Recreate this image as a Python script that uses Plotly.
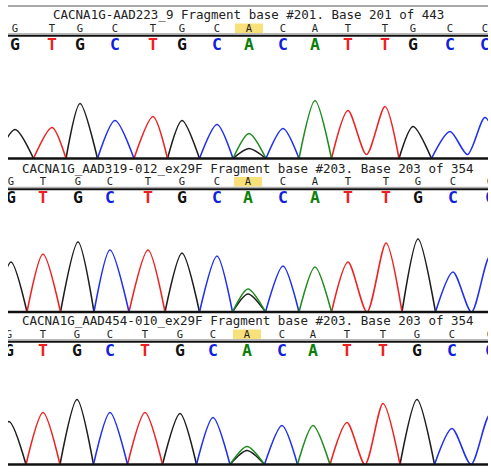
import plotly.graph_objects as go

W, H = 491, 476

# ---------------- data ----------------
titles = [
    "CACNA1G-AAD223_9 Fragment base #201. Base 201 of 443",
    "CACNA1G_AAD319-012_ex29F Fragment base #203. Base 203 of 354",
    "CACNA1G_AAD454-010_ex29F Fragment base #203. Base 203 of 354",
]
reference_seq = list("GTGCTGCACATTGCC")
base_calls = list("GTGCTGCACATTGCC")
highlight_index = 7

peak_scans_1 = [15, 52, 80, 115, 153, 182, 217, 249, 283, 315, 348, 385, 413, 450, 485]
peak_heights_1 = [580, 620, 1100, 760, 840, 760, 680, 500, 600, 1160, 960, 1040, 640, 540, 820]
peak_scans_2 = [11, 43, 78, 110, 148, 182, 217, 248, 283, 315, 348, 386, 418, 453, 490]
peak_heights_2 = [1000, 1160, 1400, 1240, 1240, 1180, 1120, 460, 920, 900, 1000, 1380, 1460, 800, 1120]
peak_scans_3 = [9, 43, 77, 110, 145, 180, 213, 247, 282, 313, 347, 383, 417, 452, 490]
peak_heights_3 = [860, 1040, 1300, 1040, 1040, 1020, 940, 360, 780, 780, 840, 1220, 1300, 720, 1000]

# secondary G (black) signal under the A call at the highlighted position
secondary_base = "G"
secondary_heights = [200, 360, 280]
# signal floor between two consecutive peaks of the same dye
same_dye_valley = [80, 0, 0]

panel_scans = [peak_scans_1, peak_scans_2, peak_scans_3]
panel_heights = [peak_heights_1, peak_heights_2, peak_heights_3]

# ---------------- styles ----------------
TRACE_COL = {"G": "#1e1e1e", "A": "#1e8c1e", "T": "#ee2222", "C": "#2030ee"}
CALL_COL = {"G": "#111111", "A": "#0c7f0c", "T": "#f01e1e", "C": "#1020e0"}
MONO = "DejaVu Sans Mono"
PX_UNITS = 20.0          # intensity units per pixel
PANEL_OFF = [0, 153.5, 306]
X0, X1 = 8, 488
SMOOTH = 0.8


def py(px):
    return 1 - px / H


def feet_of(scans):
    n = len(scans)
    f = [scans[0] - (scans[1] - scans[0]) / 2]
    for i in range(1, n):
        f.append((scans[i - 1] + scans[i]) / 2)
    f.append(scans[-1] + (scans[-1] - scans[-2]) / 2)
    return f


fig = go.Figure()
shapes, annotations = [], []
layout_axes = {}

for k in range(3):
    off = PANEL_OFF[k]
    scans, heights = panel_scans[k], panel_heights[k]
    xid = "x" if k == 0 else f"x{k+1}"
    yid = "y" if k == 0 else f"y{k+1}"
    hid = f"y{k+4}"
    xname = "xaxis" if k == 0 else f"xaxis{k+1}"
    yname = "yaxis" if k == 0 else f"yaxis{k+1}"
    hname = f"yaxis{k+4}"

    top_px, base_px = 50 + off, 158.5 + off
    layout_axes[xname] = dict(domain=[X0 / W, X1 / W], range=[X0, X1], visible=False,
                              anchor=yid, fixedrange=True)
    layout_axes[yname] = dict(domain=[py(base_px), py(top_px)],
                              range=[0, (base_px - top_px) * PX_UNITS],
                              visible=False, anchor=xid, fixedrange=True)
    layout_axes[hname] = dict(domain=[py(52 + off), py(6 + off)], range=[52, 6],
                              visible=False, anchor=xid, fixedrange=True)

    # ---- traces by dye channel ----
    feet = feet_of(scans)
    lines = {b: ([], []) for b in "GATC"}
    for i, b in enumerate(base_calls):
        xs, ys = lines[b]
        if i > 0 and base_calls[i - 1] == b:
            ys[-1] = same_dye_valley[k]
        else:
            if xs:
                xs.append(None)
                ys.append(None)
            xs.append(feet[i])
            ys.append(0)
        xs.append(scans[i])
        ys.append(heights[i])
        xs.append(feet[i + 1])
        ys.append(0)

    hi = highlight_index
    fig.add_trace(go.Scatter(
        x=[feet[hi], scans[hi], feet[hi + 1]], y=[0, secondary_heights[k], 0],
        xaxis=xid, yaxis=yid, mode="lines",
        line=dict(color=TRACE_COL[secondary_base], width=1.6, shape="spline", smoothing=SMOOTH),
        hoverinfo="skip", showlegend=False))
    for b in "GTCA":
        xs, ys = lines[b]
        fig.add_trace(go.Scatter(
            x=xs, y=ys, xaxis=xid, yaxis=yid, mode="lines", connectgaps=False,
            line=dict(color=TRACE_COL[b], width=1.6, shape="spline", smoothing=SMOOTH),
            hoverinfo="skip", showlegend=False))

    # ---- reference sequence (small) and base calls (large) ----
    fig.add_trace(go.Scatter(
        x=scans, y=[29] * len(scans), xaxis=xid, yaxis=hid, mode="text",
        text=reference_seq, textposition="middle center", cliponaxis=True,
        textfont=dict(family=MONO, size=10.5, color="#222222"),
        hoverinfo="skip", showlegend=False))
    fig.add_trace(go.Scatter(
        x=scans, y=[45.5] * len(scans), xaxis=xid, yaxis=hid, mode="text",
        text=base_calls, textposition="middle center", cliponaxis=True,
        textfont=dict(family=MONO, size=16.5, weight="bold",
                      color=[CALL_COL[b] for b in base_calls]),
        hoverinfo="skip", showlegend=False))

    # highlight box
    shapes.append(dict(type="rect", xref=xid, yref="paper",
                       x0=scans[hi] - 14, x1=scans[hi] + 14,
                       y0=py(33 + off), y1=py(23.5 + off),
                       fillcolor="#f8e07a", line=dict(width=0), layer="below"))
    # separator lines
    shapes.append(dict(type="line", xref="paper", yref="paper", x0=X0 / W, x1=X1 / W,
                       y0=py(33.8 + off), y1=py(33.8 + off),
                       line=dict(color="#9a9a9a", width=1), layer="above"))
    shapes.append(dict(type="line", xref="paper", yref="paper", x0=X0 / W, x1=X1 / W,
                       y0=py(35.8 + off), y1=py(35.8 + off),
                       line=dict(color="#111111", width=2), layer="above"))
    shapes.append(dict(type="line", xref="paper", yref="paper", x0=X0 / W, x1=X1 / W,
                       y0=py(base_px), y1=py(base_px),
                       line=dict(color="#111111", width=2.5), layer="above"))

    annotations.append(dict(text=titles[k], xref="paper", yref="paper",
                            x=248 / W, y=py(14.5 + off), xanchor="center", yanchor="middle",
                            showarrow=False, font=dict(family=MONO, size=12.5, color="#222222")))

# top line of first panel
shapes.append(dict(type="line", xref="paper", yref="paper", x0=X0 / W, x1=X1 / W,
                   y0=py(6), y1=py(6), line=dict(color="#8c8c8c", width=1.5)))

fig.update_layout(
    width=W, height=H, margin=dict(l=0, r=0, t=0, b=0),
    paper_bgcolor="white", plot_bgcolor="rgba(0,0,0,0)",
    showlegend=False, shapes=shapes, annotations=annotations,
    **layout_axes,
)

fig.write_html("out.html", config={"displayModeBar": False, "staticPlot": True},
               post_script="document.body.style.margin='0px';")
